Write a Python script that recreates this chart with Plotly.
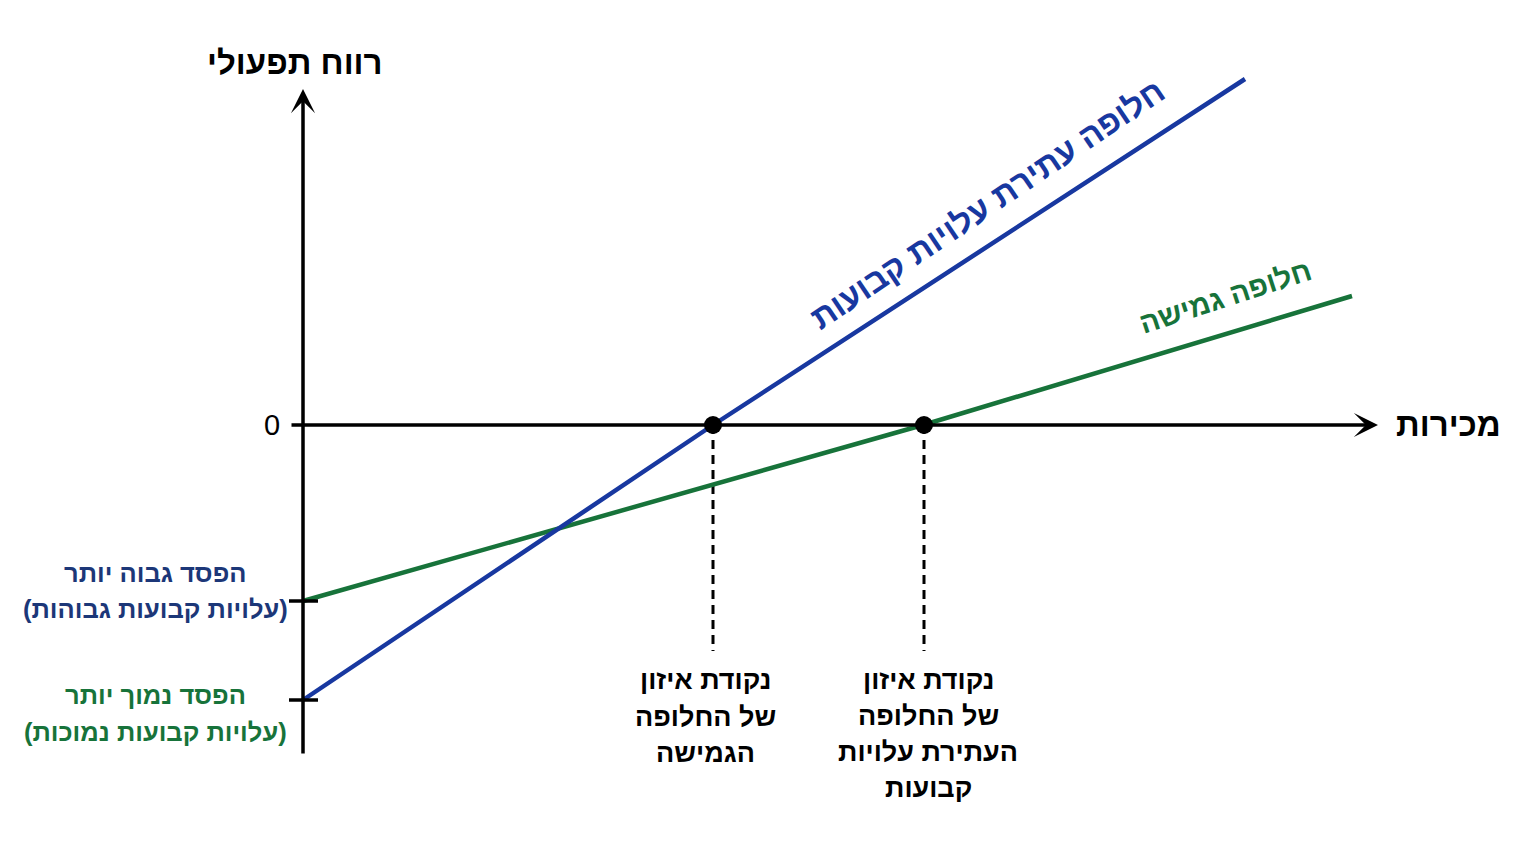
import plotly.graph_objects as go

# operating profit vs. sales, in chart units
fixed_x = [0, 4.10, 9.42]
fixed_y = [-2.75, 0, 3.46]
flex_x = [0, 6.20, 10.49]
flex_y = [-1.76, 0, 1.29]

breakeven_x = [4.10, 6.21]
breakeven_y = [0, 0]
guide_bottom = -2.26

intercepts = [-1.76, -2.75]

BLUE = '#1838a0'
GREEN = '#17733a'
NAVY = '#1c3778'
FONT = 'Liberation Sans, DejaVu Sans, sans-serif'

y_title = 'רווח תפעולי'
x_title = 'מכירות'
fixed_name = 'חלופה עתירת עלויות קבועות'
flex_name = 'חלופה גמישה'
high_loss = ['הפסד גבוה יותר', '(עלויות קבועות גבוהות)']
low_loss = ['הפסד נמוך יותר', '(עלויות קבועות נמוכות)']
be_flex = ['נקודת איזון', 'של החלופה', 'הגמישה']
be_fixed = ['נקודת איזון', 'של החלופה', 'העתירת עלויות', 'קבועות']

fig = go.Figure()

# dashed guides under the break-even points
for bx in breakeven_x:
    fig.add_trace(go.Scatter(x=[bx, bx], y=[0, guide_bottom], mode='lines',
                             line=dict(color='black', width=3, dash='9px,6px'),
                             hoverinfo='skip'))

fig.add_trace(go.Scatter(x=flex_x, y=flex_y, mode='lines',
                         line=dict(color=GREEN, width=4.5), hoverinfo='skip'))
fig.add_trace(go.Scatter(x=fixed_x, y=fixed_y, mode='lines',
                         line=dict(color=BLUE, width=4.5), hoverinfo='skip'))

# short ticks on the y axis at the two intercepts
for yi in intercepts:
    fig.add_trace(go.Scatter(x=[-0.14, 0.15], y=[yi, yi], mode='lines',
                             line=dict(color='black', width=3.5), hoverinfo='skip'))

# axes with arrow heads
fig.add_annotation(x=10.75, y=0, ax=-0.13, ay=0, axref='x', ayref='y',
                   text='', showarrow=True, arrowhead=3, arrowsize=1.15,
                   arrowwidth=3.5, arrowcolor='black')
fig.add_annotation(x=0, y=3.36, ax=0, ay=-3.30, axref='x', ayref='y',
                   text='', showarrow=True, arrowhead=3, arrowsize=1.15,
                   arrowwidth=3.5, arrowcolor='black')

fig.add_trace(go.Scatter(x=breakeven_x, y=breakeven_y, mode='markers',
                         marker=dict(color='black', size=18), hoverinfo='skip'))


def label(x, y, text, size, color='black', angle=0, bold=True):
    fig.add_annotation(x=x, y=y, text=text, showarrow=False, textangle=angle,
                       font=dict(family=FONT, size=size, color=color,
                                 weight='bold' if bold else 'normal'))


label(-0.08, 3.63, y_title, 33)
label(11.45, 0.01, x_title, 33)
label(-0.31, 0, '0', 29, bold=False)
label(6.84, 2.21, fixed_name, 33, BLUE, angle=-34)
label(9.22, 1.28, flex_name, 29, GREEN, angle=-18)

for i, line in enumerate(high_loss):
    label(-1.48, -1.48 - 0.355 * i, line, 25.5, NAVY)
for i, line in enumerate(low_loss):
    label(-1.48, -2.70 - 0.365 * i, line, 25.5, GREEN)
for i, line in enumerate(be_flex):
    label(breakeven_x[0] - 0.08, -2.55 - 0.365 * i, line, 27)
for i, line in enumerate(be_fixed):
    label(breakeven_x[1] + 0.04, -2.55 - 0.36 * i, line, 27)

fig.update_layout(
    width=1536, height=864,
    margin=dict(l=0, r=0, t=0, b=0),
    paper_bgcolor='white', plot_bgcolor='white',
    showlegend=False,
    xaxis=dict(range=[-3.03, 12.33], visible=False, fixedrange=True),
    yaxis=dict(range=[-4.39, 4.25], visible=False, fixedrange=True),
)

fig.write_html('out.html', config={'displayModeBar': False},
               post_script="document.body.style.margin='0';")
